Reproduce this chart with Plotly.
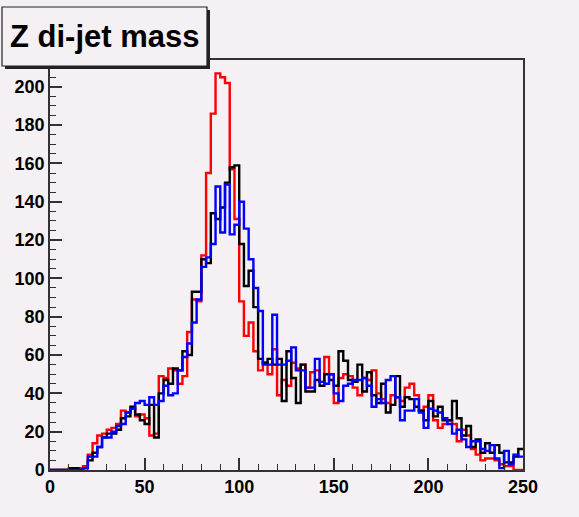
import plotly.graph_objects as go

bin_width = 2.5
n_bins = 100
edges = [i * bin_width for i in range(n_bins + 1)]

red = [0, 0, 0, 0, 0, 0, 1, 2, 8, 14,
       18, 19, 21, 22, 24, 31, 30, 32, 28, 29,
       27, 18, 19, 49, 48, 53, 52, 45, 49, 72,
       89, 88, 112, 155, 186, 207, 205, 202, 157, 131,
       88, 70, 77, 62, 52, 56, 50, 63, 39, 47,
       44, 56, 53, 55, 43, 51, 52, 46, 59, 50,
       35, 48, 50, 49, 43, 39, 48, 47, 52, 40,
       37, 35, 39, 38, 36, 43, 45, 39, 31, 33,
       39, 26, 22, 24, 26, 24, 15, 21, 18, 11,
       8, 5, 6, 6, 5, 3, 2, 2, 0, 0]

black = [0, 0, 0, 0, 1, 1, 0, 1, 5, 9,
         12, 17, 19, 19, 21, 27, 28, 33, 29, 26,
         24, 34, 17, 40, 47, 45, 53, 52, 62, 60,
         93, 93, 110, 108, 134, 131, 137, 150, 158, 159,
         118, 96, 104, 85, 58, 56, 58, 55, 58, 36,
         62, 48, 35, 55, 41, 41, 47, 44, 50, 47,
         44, 62, 57, 47, 46, 55, 41, 51, 39, 35,
         45, 30, 34, 49, 33, 38, 37, 33, 31, 26,
         36, 28, 33, 26, 26, 36, 27, 18, 23, 12,
         16, 9, 14, 9, 13, 9, 4, 4, 7, 11]

blue = [0, 0, 0, 0, 0, 0, 0, 1, 7, 7,
        12, 17, 17, 20, 23, 24, 30, 32, 35, 36,
        34, 38, 34, 36, 44, 39, 40, 52, 59, 66,
        77, 89, 106, 111, 118, 148, 124, 149, 123, 128,
        140, 126, 110, 95, 83, 55, 55, 81, 55, 55,
        57, 64, 52, 52, 43, 43, 58, 46, 45, 50,
        40, 36, 44, 45, 47, 47, 48, 44, 33, 37,
        35, 47, 49, 38, 26, 31, 31, 37, 30, 22,
        32, 31, 30, 27, 24, 19, 21, 16, 12, 15,
        15, 11, 10, 13, 6, 1, 10, 3, 8, 7]

title_text = "Z di-jet mass"
bg = "#f4f0f4"

fig = go.Figure()
for vals, col in [(red, "#ff0000"), (black, "#000000"), (blue, "#0000ff")]:
    fig.add_trace(go.Scatter(
        x=edges, y=vals + [vals[-1]], mode="lines",
        line=dict(shape="hv", color=col, width=2.4),
        hoverinfo="skip", showlegend=False))

W, H = 579, 517
L, R, T, B = 50, 56, 60, 47
pw, ph = W - L - R, H - T - B

def px_to_paper(xp, yp):
    return (xp - L) / pw, (H - B - yp) / ph

bx0, by0 = px_to_paper(2, 7)
bx1, by1 = px_to_paper(207, 66)
sx0, sy0 = px_to_paper(5, 10)
sx1, sy1 = px_to_paper(210, 69)

tickfont = dict(family="Liberation Sans, Arial, sans-serif", size=18, color="#000000")

fig.update_layout(
    width=W, height=H,
    margin=dict(l=L, r=R, t=T, b=B, autoexpand=False),
    paper_bgcolor=bg, plot_bgcolor=bg,
    font=dict(family="Liberation Sans, Arial, sans-serif"),
    xaxis=dict(range=[0, 250], showgrid=False, zeroline=False, automargin=False,
               showline=True, linecolor="#333333", linewidth=1.5, mirror=True,
               ticks="inside", ticklen=12, tickwidth=1.5, tickcolor="#333333",
               tickvals=[0, 50, 100, 150, 200, 250],
               ticktext=["<b>0</b>", "<b>50</b>", "<b>100</b>", "<b>150</b>", "<b>200</b>", "<b>250</b>"],
               tickfont=tickfont,
               minor=dict(tickvals=[v for v in range(0, 251, 10) if v % 50], ticks="inside",
                          ticklen=6, tickwidth=1.2, tickcolor="#333333")),
    yaxis=dict(range=[0, 214], showgrid=False, zeroline=False, automargin=False,
               showline=True, linecolor="#333333", linewidth=1.5, mirror=True,
               ticks="inside", ticklen=12, tickwidth=1.5, tickcolor="#333333",
               tickvals=list(range(0, 201, 20)),
               ticktext=["<b>%d</b>" % v for v in range(0, 201, 20)],
               tickfont=tickfont,
               minor=dict(tickvals=[v for v in range(0, 214, 5) if v % 20], ticks="inside",
                          ticklen=6, tickwidth=1.2, tickcolor="#333333")),
    shapes=[
        dict(type="rect", xref="paper", yref="paper", x0=sx0, x1=sx1, y0=sy0, y1=sy1,
             fillcolor="#222222", line=dict(width=0), layer="above"),
        dict(type="rect", xref="paper", yref="paper", x0=bx0, x1=bx1, y0=by0, y1=by1,
             fillcolor=bg, line=dict(color="#222222", width=1.2), layer="above"),
    ],
    annotations=[dict(text="<b>" + title_text + "</b>", xref="paper", yref="paper",
                      x=(bx0 + bx1) / 2, y=(by0 + by1) / 2, xanchor="center", yanchor="middle",
                      showarrow=False,
                      font=dict(family="Liberation Sans, Arial, sans-serif", size=31, color="#000000"))],
)

fig.write_html("out.html", config={"displayModeBar": False},
               post_script="document.body.style.margin='0';document.body.style.overflow='hidden';")
